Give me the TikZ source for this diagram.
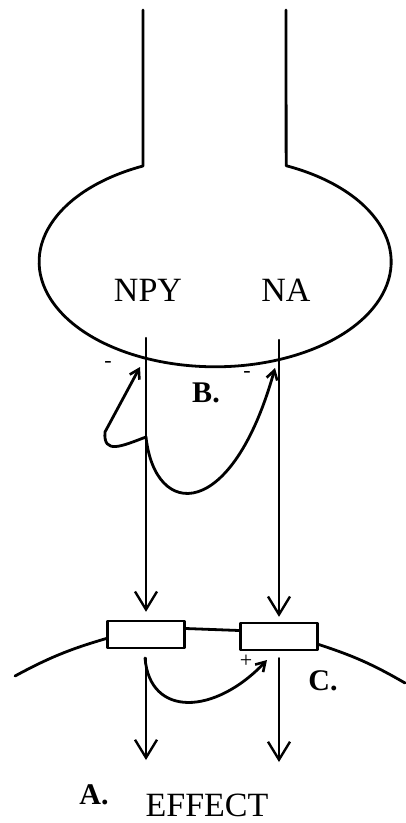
\documentclass[tikz,border=0pt]{standalone}
\usepackage{fontspec}
\setmainfont{Liberation Serif}
\usetikzlibrary{positioning,arrows.meta,calc}

\begin{document}
\begin{tikzpicture}[
    x=1pt, y=-1pt,
    line cap=round, line join=round,
    txt/.style    = {inner sep=0pt, font=\fontsize{34}{38}\selectfont},
    tag/.style    = {inner sep=0pt, font=\fontsize{30}{34}\selectfont\bfseries},
    sgn/.style    = {inner sep=0pt, font=\fontsize{22}{24}\selectfont},
    recep/.style  = {draw, line width=2.4pt, fill=white, minimum width=77pt,
                     minimum height=27pt, inner sep=0pt},
    cell/.style   = {line width=2.8pt},
    arr/.style    = {-{Straight Barb[length=18pt,width=22pt,line width=2.4pt]},
                     line width=2.2pt},
    carr/.style   = {-{Straight Barb[length=9pt,width=11pt,line width=2.6pt]},
                     line width=2.8pt},
]
\useasboundingbox (0,0) rectangle (405,823);

%% ── Axon and varicosity ──────────────────────────────────────────────────
\draw[cell] (143,10) -- (143,166)
    arc[start angle=245.8, end angle=-66.2, x radius=176, y radius=105]
    -- (286,10);

\node[txt] (npy) at (148,290) {NPY};
\node[txt] (na)  at (286,290) {NA};

%% ── Release lines ────────────────────────────────────────────────────────
\coordinate (npytop) at (146,338);
\coordinate (natop)  at (279,340);
\coordinate (bj)     at (146,437);

%% ── Postjunctional membrane and receptors ────────────────────────────────
\node[recep] (lbox) at (146,634.5) {};
\node[recep] (rbox) at (279,636.5) {};

\draw[cell] (15,676) to[bend left=6] ([yshift=-4pt]lbox.west);
\draw[cell] ([yshift=-8pt]rbox.east) to[bend left=6] (405,683);
\draw[cell] ([yshift=6pt]lbox.east) -- ([yshift=6pt]rbox.west);

\draw[arr, shorten >=8pt] (npytop) -- (lbox.north);
\draw[arr, shorten >=5pt] (natop)  -- (rbox.north);

%% ── B. prejunctional feedback ────────────────────────────────────────────
\coordinate (tipl) at (140,367);
\coordinate (tipr) at (275,368);
\draw[carr] (bj) .. controls (122,446) and (103,455) .. (105,432) -- (tipl);
\draw[carr] (bj) .. controls (155,520) and (232,522) .. (tipr);

\node[sgn] (ml) at (108,364) {-};
\node[sgn] (mr) at (247,374) {-};
\node[tag] (b)  at (206,393) {B.};

%% ── Effects ──────────────────────────────────────────────────────────────
\coordinate (effl) at (146,760);
\coordinate (effr) at (279,762);
\draw[arr, shorten <=9pt] (lbox.south) -- (effl);
\draw[arr, shorten <=7pt] (rbox.south) -- (effr);

%% ── C. postjunctional interaction ────────────────────────────────────────
\coordinate (cst)  at (145,658);
\coordinate (ctip) at (267,660);
\draw[carr] (cst) .. controls (150,718) and (215,715) .. (ctip);
\node[sgn] (plus) at (246,661) {+};
\node[tag] (c)    at (323,681) {C.};

%% ── Labels ───────────────────────────────────────────────────────────────
\node[tag] (a)   at (94,795)  {A.};
\node[txt] (eff) at (207,805) {EFFECT};

\end{tikzpicture}
\end{document}
